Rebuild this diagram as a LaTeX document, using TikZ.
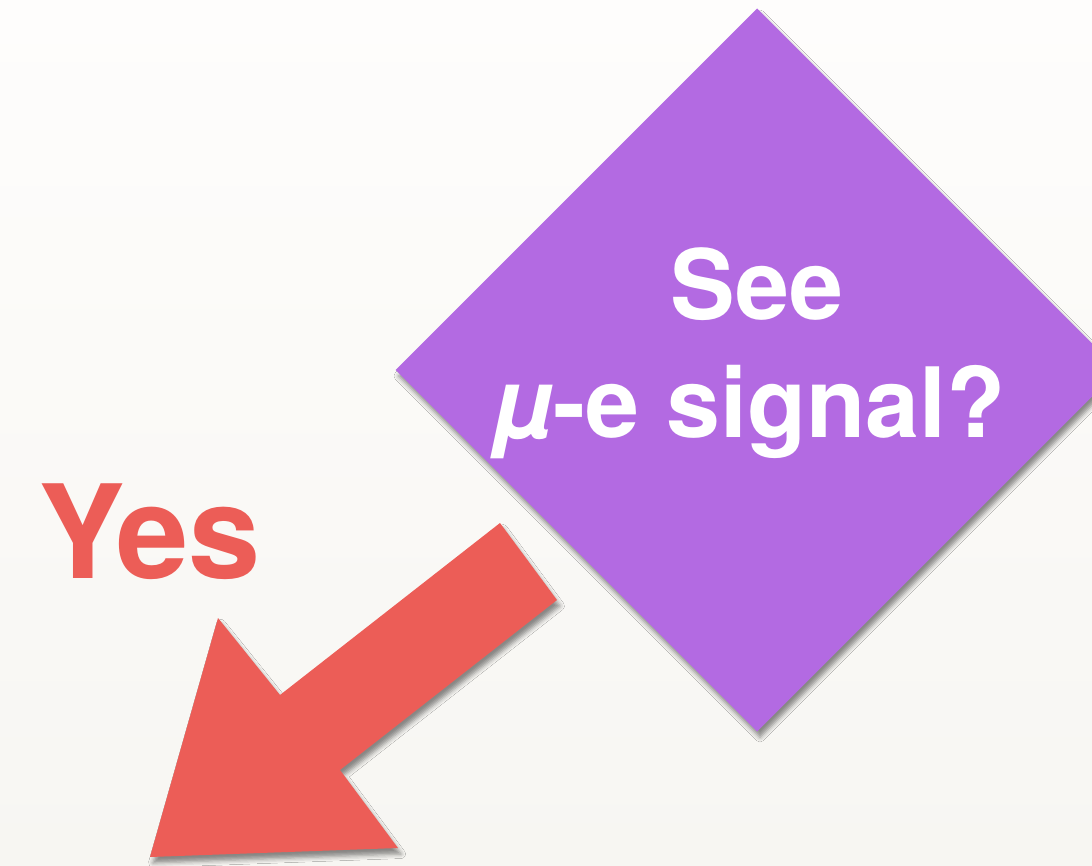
\documentclass[tikz,border=0pt]{standalone}
\usepackage{fontspec}
\setmainfont{TeX Gyre Heros}
\usetikzlibrary{shapes.geometric,shadows.blur}
\definecolor{bgtop}{HTML}{FEFDFC}
\definecolor{bgbot}{HTML}{F7F6F2}
\definecolor{qpurple}{HTML}{B36AE2}
\definecolor{ared}{HTML}{EC5D57}
\tikzset{
  shadowed/.style={blur shadow={shadow xshift=3pt, shadow yshift=-6pt, shadow blur radius=4.5pt, shadow opacity=45}},
  qtext/.style={text=white, font=\bfseries\fontsize{97}{117}\selectfont, anchor=base, inner sep=0pt},
  ytext/.style={text=ared, font=\bfseries\fontsize{130}{140}\selectfont, anchor=base west, inner sep=0pt}
}
\begin{document}
\begin{tikzpicture}[x=1pt,y=-1pt]
\useasboundingbox (0,0) rectangle (1092,866);
\clip (0,0) rectangle (1092,866);
\shade[top color=bgtop, bottom color=bgbot] (0,0) rectangle (1092,866);
% decision diamond
\node[diamond, aspect=1, minimum width=723pt, minimum height=723pt, inner sep=0pt,
      outer sep=0pt, fill=qpurple, shadowed] (q) at (757,370) {};
\node[qtext] (see) at (757,320) {See};
\node[qtext] (sig) at (750,437) {\itshape µ\upshape-e signal?};
% arrow
\coordinate (t1) at (500,523);
\coordinate (t2) at (557,600);
\coordinate (b2) at (340,770);
\coordinate (h2) at (398,848);
\coordinate (tip) at (150,857);
\coordinate (h1) at (218,618);
\coordinate (b1) at (280,695);
\path[fill=ared, shadowed] (t1) -- (t2) -- (b2) -- (h2) -- (tip) -- (h1) -- (b1) -- cycle;
\node[ytext] (yes) at (38,578) {Yes};
\end{tikzpicture}
\end{document}
